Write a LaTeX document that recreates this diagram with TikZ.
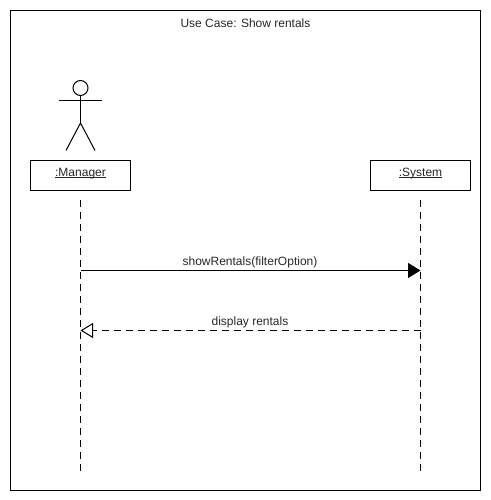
\documentclass[tikz,border=0pt]{standalone}
\usepackage{fontspec}
\setmainfont{Liberation Sans}
\usetikzlibrary{arrows.meta}
\newcommand{\objname}[1]{\setbox0\hbox{#1}\copy0\llap{\rule[-1.7pt]{\wd0}{0.8pt}}}
\tikzset{
  objbox/.style={draw,line width=1pt,minimum width=100pt,minimum height=30pt,inner sep=0pt},
  lifeline/.style={line width=1pt,dash pattern=on 6.5pt off 5.5pt},
  msgtext/.style={inner sep=0pt,anchor=base,font=\fontsize{12pt}{14pt}\selectfont,text=black!85},
  callmsg/.style={line width=1pt,-{Triangle[length=12.5pt,width=15pt,fill=black]}},
  replymsg/.style={line width=1pt,dash pattern=on 6.5pt off 5.5pt,-{Triangle[open,length=12.5pt,width=15pt,fill=white]}}
}
\begin{document}
\begin{tikzpicture}[x=1pt,y=-1pt]
  \useasboundingbox (0,0) rectangle (490,500);
  \draw[line width=1pt] (10.5,10.5) rectangle (480.5,490.5);
  \node[msgtext] (title) at (245.5,27.5) {Use Case: Show rentals};

  % actor
  \node[draw,circle,line width=1pt,minimum size=15pt,inner sep=0pt] (head) at (80.5,88) {};
  \coordinate (hip) at (80.5,123);
  \draw[line width=1pt] (head.south) -- (hip);
  \draw[line width=1pt] (59,101) -- (102,101);
  \draw[line width=1pt] (66,150.5) -- (hip) -- (95,150.5);

  % objects
  \node[objbox] (manager) at (80.5,175.5) {};
  \node[objbox] (system) at (420.5,175.5) {};
  \node[msgtext] (managername) at (80.5,176.5) {\objname{:Manager}};
  \node[msgtext] (systemname) at (420.5,176.5) {\objname{:System}};

  \foreach \obj/\x in {manager/80.5,system/420.5} {
    \coordinate (\obj top) at (\x,200);
    \coordinate (\obj bot) at (\x,471);
    \draw[lifeline] (\obj top) -- (\obj bot);
  }

  % messages
  \coordinate (m1a) at (80.5,270.5);
  \coordinate (m1b) at (420.5,270.5);
  \coordinate (m2a) at (420.5,330.5);
  \coordinate (m2b) at (80.5,330.5);
  \draw[callmsg] (m1a) -- (m1b);
  \draw[replymsg] (m2a) -- (m2b);
  \node[msgtext] (m1text) at (250,265.5) {showRentals(filterOption)};
  \node[msgtext] (m2text) at (250,325.5) {display rentals};
\end{tikzpicture}
\end{document}
